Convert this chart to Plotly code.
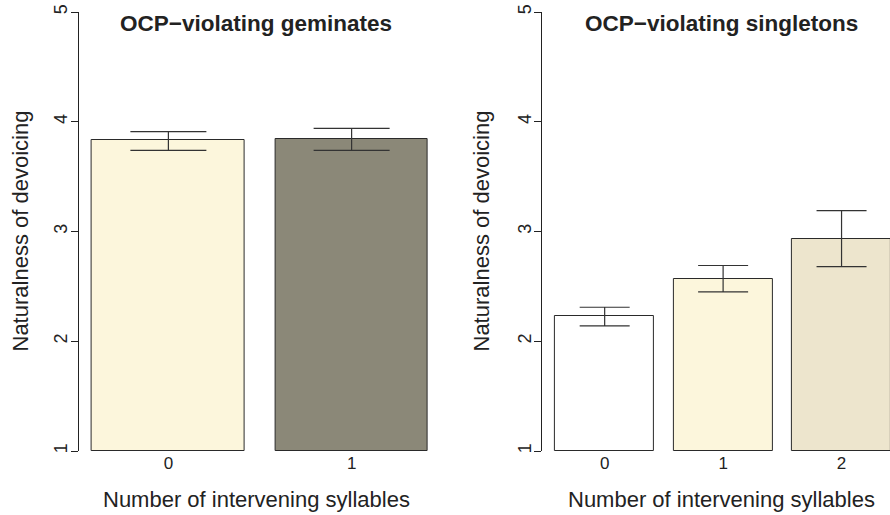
import plotly.graph_objects as go

# ---- data ----
gem_categories = ["0", "1"]
gem_means = [3.83, 3.84]
gem_upper = [3.91, 3.94]
gem_lower = [3.74, 3.74]
gem_colors = ["#FCF6DC", "#8B8878"]

sing_categories = ["0", "1", "2"]
sing_means = [2.23, 2.57, 2.93]
sing_upper = [2.31, 2.69, 3.19]
sing_lower = [2.14, 2.45, 2.68]
sing_colors = ["#FFFFFF", "#FCF6DC", "#EDE5CD"]

y_ticks = [1, 2, 3, 4, 5]
y_min, y_max = 1, 5

W, H = 890, 515
FONT = "Liberation Sans, Arial, Helvetica, sans-serif"

# bar centres (R barplot layout: width 1, space 0.2)
gem_x = [0.7 + 1.2 * i for i in range(len(gem_categories))]
sing_x = [0.7 + 1.2 * i for i in range(len(sing_categories))]

fig = go.Figure()

def add_bars(xs, means, upper, lower, colors, xa, ya, capw):
    fig.add_trace(go.Bar(
        x=xs, y=[m - y_min for m in means], base=[y_min] * len(means),
        width=1.0, marker=dict(color=colors, line=dict(color="#2a2a2a", width=1)),
        error_y=dict(type="data", symmetric=False,
                     array=[u - m for u, m in zip(upper, means)],
                     arrayminus=[m - l for m, l in zip(means, lower)],
                     color="#333333", thickness=1.2, width=capw),
        xaxis=xa, yaxis=ya, showlegend=False, hoverinfo="skip",
    ))

add_bars(gem_x, gem_means, gem_upper, gem_lower, gem_colors, "x", "y", 38)
add_bars(sing_x, sing_means, sing_upper, sing_lower, sing_colors, "x2", "y2", 25)

ydom = [(H - 451) / H, (H - 12) / H]

yaxis_common = dict(
    range=[y_min, y_max], tickvals=y_ticks, ticktext=[str(t) for t in y_ticks],
    showline=True, linecolor="#222222", linewidth=1, ticks="outside", ticklen=7,
    tickcolor="#222222", tickangle=-90, tickfont=dict(family=FONT, size=18, color="#222222"),
    showgrid=False, zeroline=False, domain=ydom, automargin=False, ticklabelstandoff=-4,
)
xaxis_common = dict(showline=False, showgrid=False, zeroline=False, ticks="",
                    tickfont=dict(family=FONT, size=17, color="#222222"), automargin=False)

fig.update_layout(
    width=W, height=H, margin=dict(l=0, r=0, t=0, b=0),
    paper_bgcolor="white", plot_bgcolor="white",
    xaxis=dict(xaxis_common, domain=[78.6 / W, 441.4 / W], range=[0.112, 2.488],
               tickvals=gem_x, ticktext=gem_categories, anchor="y"),
    yaxis=dict(yaxis_common, anchor="x"),
    xaxis2=dict(xaxis_common, domain=[541.9 / W, 1.0], range=[0.064, 0.064 + (890 - 541.9) / 98.7],
                tickvals=sing_x, ticktext=sing_categories, anchor="y2"),
    yaxis2=dict(yaxis_common, anchor="x2"),
    bargap=0,
)

def ann(text, x, y, size, bold=False, angle=0):
    fig.add_annotation(text=f"<b>{text}</b>" if bold else text, x=x / W, y=(H - y) / H,
                       xref="paper", yref="paper", showarrow=False, textangle=angle,
                       font=dict(family=FONT, size=size, color="#222222"),
                       xanchor="center", yanchor="middle")

ann("OCP−violating geminates", 256, 23, 22.5, bold=True)
ann("OCP−violating singletons", 721.5, 23, 22.5, bold=True)
ann("Number of intervening syllables", 256, 499, 22)
ann("Number of intervening syllables", 721.5, 499, 22)
ann("Naturalness of devoicing", 20, 231.5, 22, angle=-90)
ann("Naturalness of devoicing", 481, 231.5, 22, angle=-90)

fig.write_html("out.html", config={"displayModeBar": False},
               post_script="document.body.style.margin='0';document.body.style.overflow='hidden';")
